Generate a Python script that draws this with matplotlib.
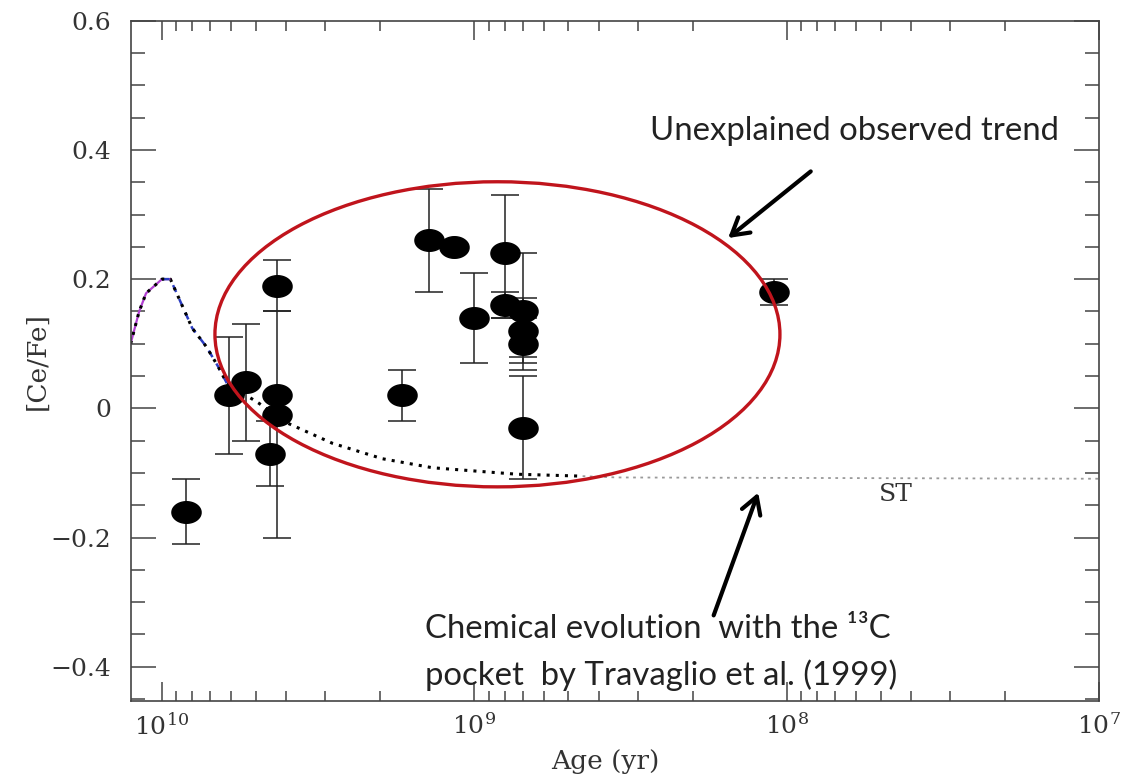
import numpy as np
import matplotlib
matplotlib.use("Agg")
import matplotlib.pyplot as plt
from matplotlib.patches import Ellipse
from matplotlib.path import Path
from matplotlib.ticker import MultipleLocator, FuncFormatter

# observed stars: age (yr), [Ce/Fe] and error bars
star_age = [8.4e9, 6.1e9, 5.4e9, 4.28e9, 4.28e9, 4.28e9, 4.5e9, 1.7e9, 1.4e9,
            1.16e9, 1.0e9, 8.0e8, 8.0e8, 6.97e8, 6.97e8, 6.97e8, 6.97e8, 1.1e8]
star_cefe = [-0.16, 0.02, 0.04, 0.19, 0.02, -0.01, -0.07, 0.02, 0.26,
             0.25, 0.14, 0.24, 0.16, 0.15, 0.12, 0.10, -0.03, 0.18]
err_lo = [0.05, 0.09, 0.09, 0.04, 0.22, 0.0, 0.05, 0.04, 0.08,
          0.0, 0.07, 0.10, 0.02, 0.07, 0.05, 0.04, 0.08, 0.02]
err_hi = [0.05, 0.09, 0.09, 0.04, 0.13, 0.0, 0.05, 0.04, 0.08,
          0.0, 0.07, 0.09, 0.02, 0.09, 0.05, 0.04, 0.08, 0.02]

# chemical evolution model (Travaglio et al. 1999)
model_age = [1.26e10, 1.185e10, 1.125e10, 1.0e10, 9.4e9, 8.0e9, 7.2e9, 6.6e9,
             6.2e9, 4.9e9, 4.0e9, 2.85e9, 1.97e9, 1.36e9, 7.3e8, 4.5e8]
model_cefe = [0.10, 0.149, 0.178, 0.20, 0.20, 0.124, 0.095, 0.064,
              0.039, 0.008, -0.022, -0.054, -0.078, -0.092, -0.102, -0.105]
# solar-type (ST) continuation
st_age = [4.5e8, 3.5e8, 1e7]
st_cefe = [-0.105, -0.107, -0.109]

serif = "DejaVu Serif"
plt.rcParams["mathtext.fontset"] = "dejavuserif"

fig = plt.figure(figsize=(11.3, 7.75), dpi=100)
ax = fig.add_axes([0.1159, 0.0955, 0.8566, 0.8778])

ax.plot(st_age, st_cefe, color="#9a9a9a", ls=(0, (1.5, 2.5)), lw=1.3)
ax.plot(model_age[:5], model_cefe[:5], color="#b040d0", lw=1.6)
ax.plot(model_age[3:9], model_cefe[3:9], color="#2a3cc0", lw=1.8, ls=(0, (3, 3)))
ax.plot(model_age, model_cefe, color="black", lw=2.2, ls=(0, (1, 2)))

ax.errorbar(star_age, star_cefe, yerr=[err_lo, err_hi], fmt="none",
            ecolor="#222222", elinewidth=1.1, capsize=10, capthick=1.1, zorder=3)
t = np.linspace(0, 2 * np.pi, 64)
ellipse_marker = Path(np.column_stack([1.35 * np.cos(t), np.sin(t)]))
ax.plot(star_age, star_cefe, ls="none", marker=ellipse_marker, ms=21,
        color="black", zorder=4)

ax.set_xscale("log")
ax.set_xlim(1.257e10, 1e7)
ax.set_ylim(-0.453, 0.6)

ax.yaxis.set_major_locator(MultipleLocator(0.2))
ax.yaxis.set_minor_locator(MultipleLocator(0.05))


def yfmt(v, pos):
    if abs(v) < 1e-9:
        return "0"
    return f"{v:.1f}".replace("-", "\u2212")


ax.yaxis.set_major_formatter(FuncFormatter(yfmt))

for s in ax.spines.values():
    s.set_color("#444444")
    s.set_linewidth(1.2)
ax.tick_params(which="both", direction="in", top=True, right=True,
               color="#444444", width=1.1)
ax.tick_params(axis="x", which="major", length=14, pad=9, labelsize=18)
ax.tick_params(axis="x", which="minor", length=7)
ax.tick_params(axis="y", which="major", length=18, pad=14, labelsize=18)
ax.tick_params(axis="y", which="minor", length=10)
for lab in ax.get_xticklabels() + ax.get_yticklabels():
    lab.set_fontfamily(serif)
    lab.set_color("#333333")

ax.set_xlabel("Age (yr)", fontsize=19, family=serif, color="#333333")
ax.xaxis.set_label_coords(0.49, -0.071)
ax.set_ylabel("[Ce/Fe]", fontsize=19, family=serif, color="#333333")
ax.yaxis.set_label_coords(-0.084, 0.5)

ax.text(0.773, 0.303, "ST", transform=ax.transAxes, fontsize=18,
        family=serif, color="#333333", va="center", ha="left")

ax.add_patch(Ellipse((0.3786, 0.539), 0.5837, 0.4485, transform=ax.transAxes,
                     fill=False, ec="#c0141c", lw=2.4, zorder=5))

arrow = dict(arrowstyle="->,head_length=0.6,head_width=0.35", lw=3,
             color="black", mutation_scale=20)
ax.annotate("", xy=(0.6147, 0.678), xytext=(0.7045, 0.781),
            xycoords="axes fraction", arrowprops=arrow, zorder=6)
ax.annotate("", xy=(0.649, 0.310), xytext=(0.601, 0.122),
            xycoords="axes fraction", arrowprops=arrow, zorder=6)

note = dict(transform=ax.transAxes, fontsize=23.7, family="Lato",
            color="#222222", va="baseline", ha="left")
ax.text(0.536, 0.825, "Unexplained observed trend", **note)
ax.text(0.3037, 0.0926, "Chemical evolution  with the \u00b9\u00b3C", **note)
ax.text(0.3037, 0.0235, "pocket  by Travaglio et al. (1999)", **note)

fig.savefig("out.png", dpi=100)
